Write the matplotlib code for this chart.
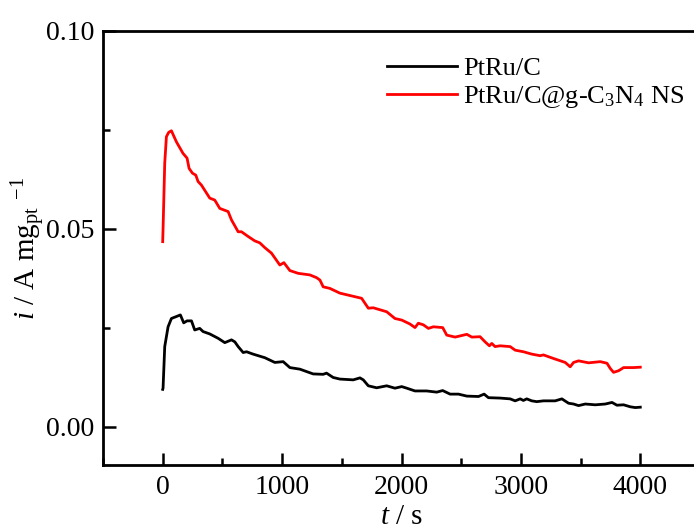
import matplotlib
matplotlib.use("Agg")
import matplotlib.pyplot as plt
from matplotlib.ticker import MultipleLocator

plt.rcParams['font.family'] = ['Liberation Serif', 'DejaVu Serif']
plt.rcParams['mathtext.fontset'] = 'custom'
plt.rcParams['mathtext.rm'] = 'Liberation Serif'
plt.rcParams['mathtext.it'] = 'Liberation Serif:italic'

# PtRu/C (black)
t_ptru = [0, 3, 17, 45, 73, 115, 148, 176, 204, 241, 268, 310, 338, 394, 464, 520, 576, 604,
          632, 674, 702, 757, 855, 939, 1009, 1065, 1149, 1260, 1344, 1372, 1428, 1484, 1596,
          1652, 1680, 1722, 1792, 1876, 1945, 2002, 2044, 2113, 2211, 2295, 2345, 2407, 2477,
          2547, 2645, 2692, 2728, 2826, 2910, 2952, 2994, 3021, 3049, 3091, 3133, 3189, 3287,
          3343, 3399, 3441, 3483, 3539, 3623, 3707, 3763, 3804, 3860, 3916, 3958, 4000]
i_ptru = [0.0095, 0.0098, 0.0203, 0.0253, 0.0274, 0.0279, 0.0283, 0.0263, 0.0268, 0.0268,
          0.0245, 0.0249, 0.0241, 0.0235, 0.0224, 0.0213, 0.0220, 0.0215, 0.0203, 0.0188,
          0.0190, 0.0184, 0.0175, 0.0163, 0.0165, 0.0150, 0.0146, 0.0134, 0.0133, 0.0136,
          0.0125, 0.0121, 0.0119, 0.0124, 0.0119, 0.0104, 0.0099, 0.0104, 0.0098, 0.0102,
          0.0098, 0.0091, 0.0091, 0.0088, 0.0092, 0.0083, 0.0083, 0.0078, 0.0077, 0.0083,
          0.0074, 0.0073, 0.0071, 0.0066, 0.0071, 0.0067, 0.0071, 0.0066, 0.0064, 0.0066,
          0.0066, 0.0071, 0.0060, 0.0058, 0.0054, 0.0058, 0.0056, 0.0058, 0.0062, 0.0055,
          0.0056, 0.0051, 0.0049, 0.0050]

# PtRu/C@g-C3N4 NS (red)
t_gcn = [0, 3, 17, 31, 50, 73, 115, 170, 204, 221, 249, 277, 296, 324, 394, 436, 478, 548,
         576, 632, 660, 716, 771, 813, 855, 911, 981, 1015, 1065, 1135, 1233, 1289, 1317,
         1344, 1400, 1484, 1568, 1666, 1722, 1764, 1876, 1945, 2002, 2071, 2113, 2141, 2183,
         2225, 2267, 2345, 2379, 2449, 2547, 2589, 2658, 2700, 2736, 2756, 2784, 2826, 2910,
         2952, 3021, 3091, 3161, 3189, 3273, 3371, 3413, 3441, 3483, 3567, 3665, 3721, 3748,
         3776, 3818, 3860, 3944, 4000]
i_gcn = [0.0468, 0.0500, 0.0666, 0.0733, 0.0744, 0.0748, 0.0720, 0.0691, 0.0679, 0.0653,
         0.0641, 0.0636, 0.0620, 0.0611, 0.0578, 0.0573, 0.0552, 0.0544, 0.0523, 0.0493,
         0.0493, 0.0481, 0.0470, 0.0465, 0.0453, 0.0439, 0.0409, 0.0415, 0.0395, 0.0388,
         0.0384, 0.0377, 0.0371, 0.0354, 0.0350, 0.0338, 0.0332, 0.0325, 0.0300, 0.0301,
         0.0291, 0.0274, 0.0270, 0.0260, 0.0251, 0.0262, 0.0258, 0.0249, 0.0253, 0.0251,
         0.0232, 0.0227, 0.0234, 0.0227, 0.0228, 0.0215, 0.0205, 0.0211, 0.0203, 0.0205,
         0.0203, 0.0194, 0.0190, 0.0184, 0.0180, 0.0182, 0.0173, 0.0163, 0.0152, 0.0163,
         0.0167, 0.0162, 0.0165, 0.0161, 0.0148, 0.0138, 0.0142, 0.0150, 0.0150, 0.0151]

labels = ['PtRu/C', r'PtRu/C@g-C$_{3}$N$_{4}$ NS']

fig = plt.figure(figsize=(6.94, 5.29), dpi=100)
ax = fig.add_axes([103/694, 1-465/529, (700-103)/694, (465-31)/529])

ax.plot(t_ptru, i_ptru, color='black', lw=2, label=labels[0])
ax.plot(t_gcn, i_gcn, color='red', lw=2, label=labels[1])

ax.set_xlim(-500, 4500)
ax.set_ylim(-0.0096, 0.10)
ax.set_xticks([0, 1000, 2000, 3000, 4000])
ax.set_yticks([0.00, 0.05, 0.10])
ax.set_yticklabels(['0.00', '0.05', '0.10'])
ax.xaxis.set_minor_locator(MultipleLocator(500))
ax.yaxis.set_minor_locator(MultipleLocator(0.025))
ax.tick_params(axis='both', which='major', direction='in', length=9, width=1.8,
               labelsize=20)
ax.tick_params(axis='y', which='major', pad=6)
ax.tick_params(axis='x', which='major', pad=7)
ax.tick_params(axis='both', which='minor', direction='in', length=5, width=1.8)
for s in ax.spines.values():
    s.set_linewidth(2.0)

ax.set_xlabel(r'$t$ / s', fontsize=21, labelpad=3)
ax.set_ylabel(r'$i$ / A mg$_{\mathregular{pt}}$ $^{\mathregular{-1}}$', fontsize=21, labelpad=-1)

leg = ax.legend(loc='upper left', bbox_to_anchor=(387/694, 1-57/529),
                bbox_transform=fig.transFigure, frameon=False, fontsize=19,
                handlelength=2.65, handletextpad=0.23, borderpad=0, borderaxespad=0,
                labelspacing=0.15)

fig.savefig('out.png', dpi=100)
